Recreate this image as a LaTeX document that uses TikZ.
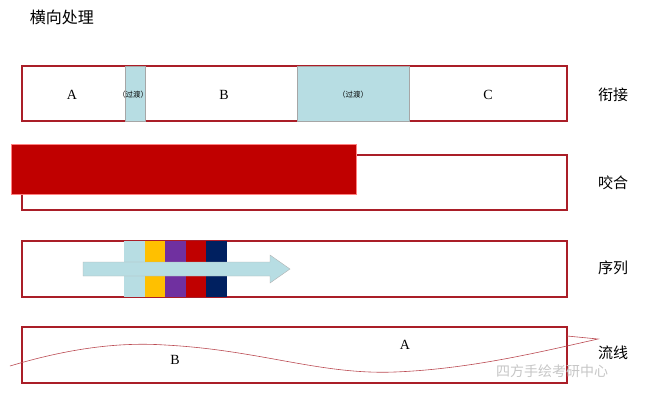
\documentclass[tikz,border=0pt]{standalone}
\usepackage{fontspec}
\setmainfont{Liberation Serif}
\newfontfamily\cjk{Noto Sans CJK SC}
\definecolor{frame}{RGB}{170,30,40}
\definecolor{deepred}{RGB}{192,0,0}
\definecolor{paleblue}{RGB}{183,221,227}
\definecolor{gold}{RGB}{255,192,0}
\definecolor{violet}{RGB}{112,48,160}
\definecolor{navy}{RGB}{0,32,96}
\tikzset{
  band/.style={draw=frame,line width=1.4pt},
  seam/.style={fill=paleblue,draw=gray!70,line width=.5pt},
  letter/.style={font=\fontsize{14}{14}\selectfont},
  tag/.style={font=\cjk\fontsize{15}{15}\selectfont},
  tiny/.style={font=\cjk\fontsize{7.5}{7.5}\selectfont}
}
\begin{document}
\begin{tikzpicture}[x=1pt,y=-1pt]
\useasboundingbox (0,0) rectangle (649,400);
\node[font=\cjk\fontsize{16}{16}\selectfont] (title) at (62,17) {横向处理};
% row 1
\draw[band] (22,66) rectangle (567,121);
\draw[seam] (125,66) rectangle (145,121);
\draw[seam] (297,66) rectangle (409,121);
\node[letter] (a1) at (72,95) {A};
\node[tiny] (t1) at (133,95) {（过渡）};
\node[letter] (b1) at (224,95) {B};
\node[tiny] (t2) at (353,95) {（过渡）};
\node[letter] (c1) at (488,95) {C};
\node[tag] (xianjie) at (613,95) {衔接};
% row 2
\draw[band] (22,155) rectangle (567,210);
\draw[fill=deepred,draw=red!50] (11,144) rectangle (356,194);
\node[tag] (yaohe) at (613,183) {咬合};
% row 3
\draw[band] (22,241) rectangle (567,297);
\foreach \c [count=\i from 0] in {paleblue,gold,violet,deepred,navy}
  \fill[\c] (124+20.6*\i,241) rectangle (144.6+20.6*\i,297);
\draw[fill=paleblue,draw=gray!60] (83,262) -- (270,262) -- (270,255) -- (290,269)
  -- (270,283) -- (270,276) -- (83,276) -- cycle;
\node[tag] (xulie) at (613,268) {序列};
% row 4
\draw[band] (22,327) rectangle (567,383);
\draw[frame!80,line width=.6pt] (10,366) .. controls (70,348) and (120,342) .. (165,345)
  .. controls (260,350) and (320,375) .. (395,372)
  .. controls (470,369) and (540,352) .. (598,339) -- (567,336);
\node[letter] (b4) at (175,360) {B};
\node[letter] (a4) at (405,345) {A};
\node[tag] (liuxian) at (613,353) {流线};
\node[font=\cjk\fontsize{14}{14}\selectfont,text=gray!45] (mark) at (552,371) {四方手绘考研中心};
\end{tikzpicture}
\end{document}
